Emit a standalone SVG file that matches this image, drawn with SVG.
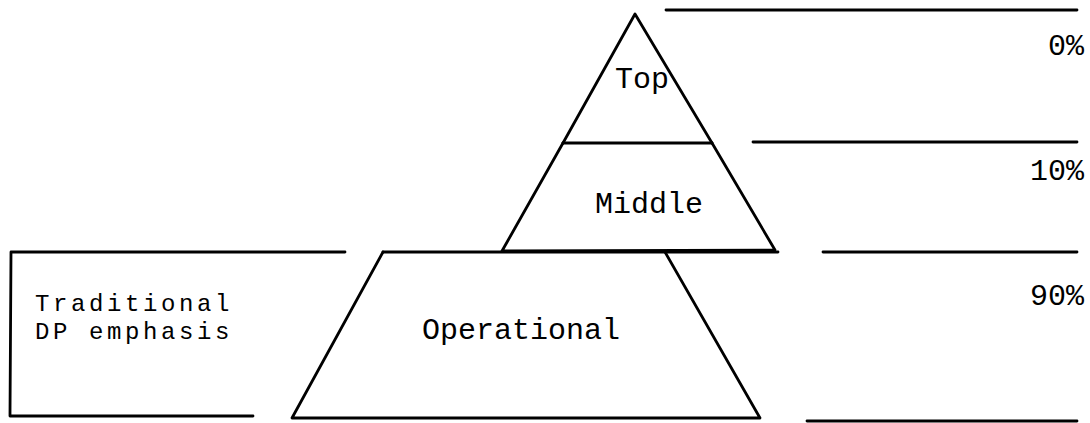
<svg xmlns="http://www.w3.org/2000/svg" width="1090" height="423" viewBox="0 0 1090 423">
<style>
.ln{stroke:#000;stroke-width:2.8;fill:none;stroke-linecap:round;stroke-linejoin:round}
.t{font-family:"Liberation Mono","Courier New",monospace;font-size:30px;fill:#000}
.s{font-size:24px;letter-spacing:3.6px}
.r{text-anchor:end}
</style>
<rect width="1090" height="423" fill="#fff"/>
<g id="pyramid-top">
<polyline class="ln" points="563,143 635,14 712,143"/>
<text class="t" x="615" y="88">Top</text>
</g>
<g id="pyramid-middle">
<polyline class="ln" points="563,143 502,251 775,250 712,143"/>
<line class="ln" x1="563" y1="143" x2="712" y2="143"/>
<text class="t" x="595" y="213">Middle</text>
</g>
<g id="pyramid-operational">
<polyline class="ln" points="665,252 760,418 292,418 383,252"/>
<line class="ln" x1="383" y1="252" x2="778" y2="252"/>
<text class="t" x="422" y="339">Operational</text>
</g>
<g id="traditional-dp">
<polyline class="ln" points="345,252 11,252 10,416 253,416"/>
<text class="t s" x="35" y="311">Traditional</text>
<text class="t s" x="35" y="339">DP emphasis</text>
</g>
<g id="connectors">
<line class="ln" x1="666" y1="10" x2="1077" y2="10"/>
<line class="ln" x1="753" y1="142" x2="1077" y2="142"/>
<line class="ln" x1="823" y1="252" x2="1077" y2="252"/>
<line class="ln" x1="807" y1="421" x2="1077" y2="421"/>
</g>
<g id="percentages">
<text class="t r" x="1084" y="55">0%</text>
<text class="t r" x="1084" y="180">10%</text>
<text class="t r" x="1084" y="305">90%</text>
</g>
</svg>
